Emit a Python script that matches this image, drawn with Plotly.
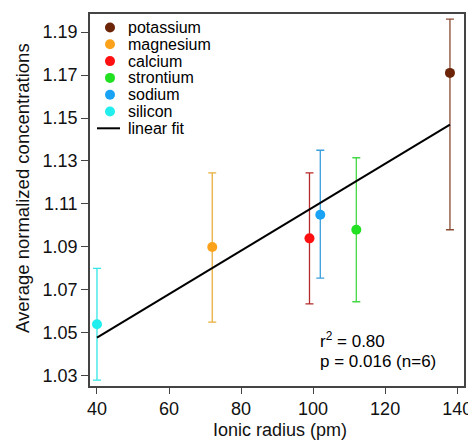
import plotly.graph_objects as go

elements = ["potassium", "magnesium", "calcium", "strontium", "sodium", "silicon"]
radius = [138, 72, 99, 112, 102, 40]
conc = [1.171, 1.090, 1.094, 1.098, 1.105, 1.054]
err_plus = [0.025, 0.0345, 0.0305, 0.0335, 0.030, 0.026]
err_minus = [0.073, 0.035, 0.0305, 0.0335, 0.0295, 0.026]
marker_colors = ["#6B2408", "#FBA21A", "#FF1010", "#22E022", "#1AA3F5", "#22EEEE"]
bar_colors = ["#8B4A32", "#E8AE3A", "#B52A2A", "#44D844", "#3A9FDC", "#33E6E6"]

fit_x = [40, 138]
fit_y = [1.0478, 1.1469]
fit_label = "linear fit"

x_ticks = [40, 60, 80, 100, 120, 140]
y_ticks = [1.03, 1.05, 1.07, 1.09, 1.11, 1.13, 1.15, 1.17, 1.19]

# page body adds an 8px offset; geometry below is in window pixels
OFF = 8
WIN_W, WIN_H = 476, 440
L, R, T, B = 90, 464, 14, 386
W, H = WIN_W - OFF, WIN_H - OFF


def px(xp):
    return (xp - L) / (R - L)


def py(yp):
    return (B - yp) / (B - T)


fig = go.Figure()
for name, x, y, ep, em, mc, bc in zip(elements, radius, conc, err_plus, err_minus, marker_colors, bar_colors):
    fig.add_trace(go.Scatter(
        x=[x], y=[y], mode="markers", name=name, showlegend=False,
        marker=dict(color=mc, size=10),
        error_y=dict(type="data", symmetric=False, array=[ep], arrayminus=[em],
                     color=bc, thickness=1.3, width=4),
    ))
fig.add_trace(go.Scatter(x=fit_x, y=fit_y, mode="lines", name=fit_label, showlegend=False,
                         line=dict(color="black", width=2)))

# legend drawn inside the plot (top-left)
shapes = []
annotations = []
row0, step = 27.5, 16.8
for i, (name, mc) in enumerate(zip(elements, marker_colors)):
    yy = row0 + step * i
    shapes.append(dict(type="circle", xref="paper", yref="paper", xsizemode="pixel", ysizemode="pixel",
                       xanchor=px(110), yanchor=py(yy), x0=-5, x1=5, y0=-5, y1=5,
                       fillcolor=mc, line=dict(width=0)))
    annotations.append(dict(x=px(126), y=py(yy), xref="paper", yref="paper", xanchor="left",
                            yanchor="middle", showarrow=False, text=name,
                            font=dict(size=16, color="black")))
yy = row0 + step * len(elements)
shapes.append(dict(type="line", xref="paper", yref="paper", x0=px(97), x1=px(120), y0=py(yy), y1=py(yy),
                   line=dict(color="black", width=2)))
annotations.append(dict(x=px(126), y=py(yy), xref="paper", yref="paper", xanchor="left",
                        yanchor="middle", showarrow=False, text=fit_label,
                        font=dict(size=16, color="black")))

# statistics text
annotations.append(dict(x=px(318), y=py(340), xref="paper", yref="paper", xanchor="left", yanchor="middle",
                        showarrow=False, text="r<sup>2</sup> = 0.80", font=dict(size=17, color="black")))
annotations.append(dict(x=px(318), y=py(361), xref="paper", yref="paper", xanchor="left", yanchor="middle",
                        showarrow=False, text="p = 0.016 (n=6)", font=dict(size=17, color="black")))

# axis titles
annotations.append(dict(x=px(22), y=py(188), xref="paper", yref="paper", xanchor="center", yanchor="middle",
                        showarrow=False, textangle=-90, text="Average normalized concentrations",
                        font=dict(size=18.5, color="#111")))
annotations.append(dict(x=px(280), y=py(429.5), xref="paper", yref="paper", xanchor="center", yanchor="middle",
                        showarrow=False, text="Ionic radius (pm)",
                        font=dict(size=18, color="#111")))

fig.update_layout(
    template="none",
    width=W, height=H,
    margin=dict(l=L - OFF, r=WIN_W - R, t=T - OFF, b=WIN_H - B, pad=0),
    plot_bgcolor="white", paper_bgcolor="white",
    font=dict(family="Liberation Sans, Arial, sans-serif", color="black"),
    showlegend=False,
    shapes=shapes,
    annotations=annotations,
)
fig.update_xaxes(range=[38.06, 141.9], tickvals=x_ticks, automargin=False,
                 ticks="outside", ticklen=6, tickwidth=1, tickcolor="#444", showgrid=False, zeroline=False,
                 showline=True, linecolor="#444", linewidth=1.5, mirror=True,
                 tickfont=dict(size=18, color="#111"))
fig.update_yaxes(range=[1.0253, 1.1984], tickvals=y_ticks, tickformat=".2f", automargin=False,
                 ticks="outside", ticklen=7, tickwidth=1, tickcolor="#444", showgrid=False, zeroline=False,
                 showline=True, linecolor="#444", linewidth=1.5, mirror=True,
                 tickfont=dict(size=18, color="#111"))

fig.write_html("out.html")
